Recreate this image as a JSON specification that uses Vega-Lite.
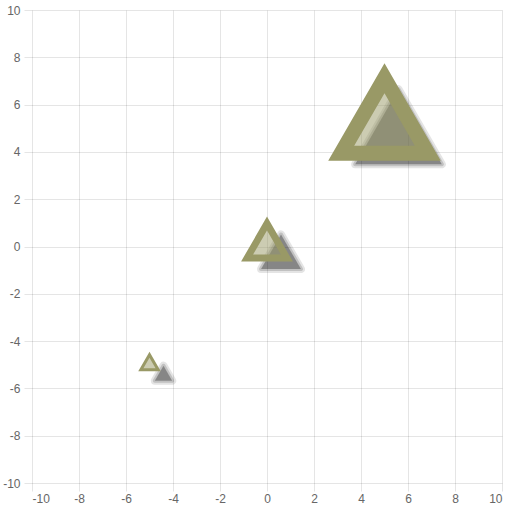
{
  "$schema": "https://vega.github.io/schema/vega-lite/v6.json",
  "width": 470,
  "height": 473,
  "autosize": {"type": "none"},
  "padding": {"left": 32, "top": 10, "right": 10, "bottom": 29},
  "data": {
    "values": [
      {"x": -5, "y": -5, "r": 10},
      {"x": 0, "y": 0, "r": 23},
      {"x": 5, "y": 5, "r": 50}
    ]
  },
  "encoding": {
    "x": {
      "field": "x", "type": "quantitative",
      "scale": {"domain": [-10, 10], "nice": false, "zero": false},
      "axis": {"values": [-10, -8, -6, -4, -2, 0, 2, 4, 6, 8, 10], "title": null, "labelPadding": 2}
    },
    "y": {
      "field": "y", "type": "quantitative",
      "scale": {"domain": [-10, 10], "nice": false, "zero": false},
      "axis": {"values": [-10, -8, -6, -4, -2, 0, 2, 4, 6, 8, 10], "title": null, "labelPadding": 4}
    },
    "size": {
      "field": "r", "type": "quantitative", "legend": null,
      "scale": {"type": "pow", "exponent": 2, "domain": [0, 50], "range": [0, 10000]}
    }
  },
  "layer": [
    {
      "mark": {
        "type": "point",
        "shape": "M0,-1L0.866,0.5L-0.866,0.5Z",
        "filled": true,
        "fill": "#000",
        "stroke": "#000",
        "strokeWidth": 8,
        "strokeJoin": "round",
        "opacity": 0.1,
        "xOffset": 14,
        "yOffset": 11
      }
    },
    {
      "mark": {
        "type": "point",
        "shape": "M0,-1L0.866,0.5L-0.866,0.5Z",
        "filled": true,
        "fill": "#000",
        "stroke": "#000",
        "strokeWidth": 4,
        "strokeJoin": "round",
        "opacity": 0.15,
        "xOffset": 14,
        "yOffset": 11
      }
    },
    {
      "mark": {
        "type": "point",
        "shape": "M0,-1L0.866,0.5L-0.866,0.5Z",
        "filled": true,
        "fill": "#000",
        "opacity": 0.3,
        "xOffset": 14,
        "yOffset": 11
      }
    },
    {
      "mark": {
        "type": "point",
        "shape": "M0,-1L0.866,0.5L-0.866,0.5Z",
        "filled": true,
        "fill": "#999966",
        "fillOpacity": 0.5,
        "stroke": "#999966",
        "strokeOpacity": 1,
        "strokeJoin": "miter",
        "opacity": 1
      },
      "encoding": {
        "strokeWidth": {
          "field": "r", "type": "quantitative", "legend": null,
          "scale": {"domain": [0, 50], "range": [0, 15]}
        }
      }
    }
  ],
  "config": {
    "view": {"stroke": null},
    "axis": {
      "domain": false,
      "gridColor": "#000",
      "gridOpacity": 0.1,
      "tickColor": "#000",
      "tickOpacity": 0.1,
      "tickSize": 8,
      "labelFont": "Liberation Sans",
      "labelFontSize": 12,
      "labelColor": "#666",
      "labelExpr": "replace(datum.label, '−', '-')"
    }
  }
}
